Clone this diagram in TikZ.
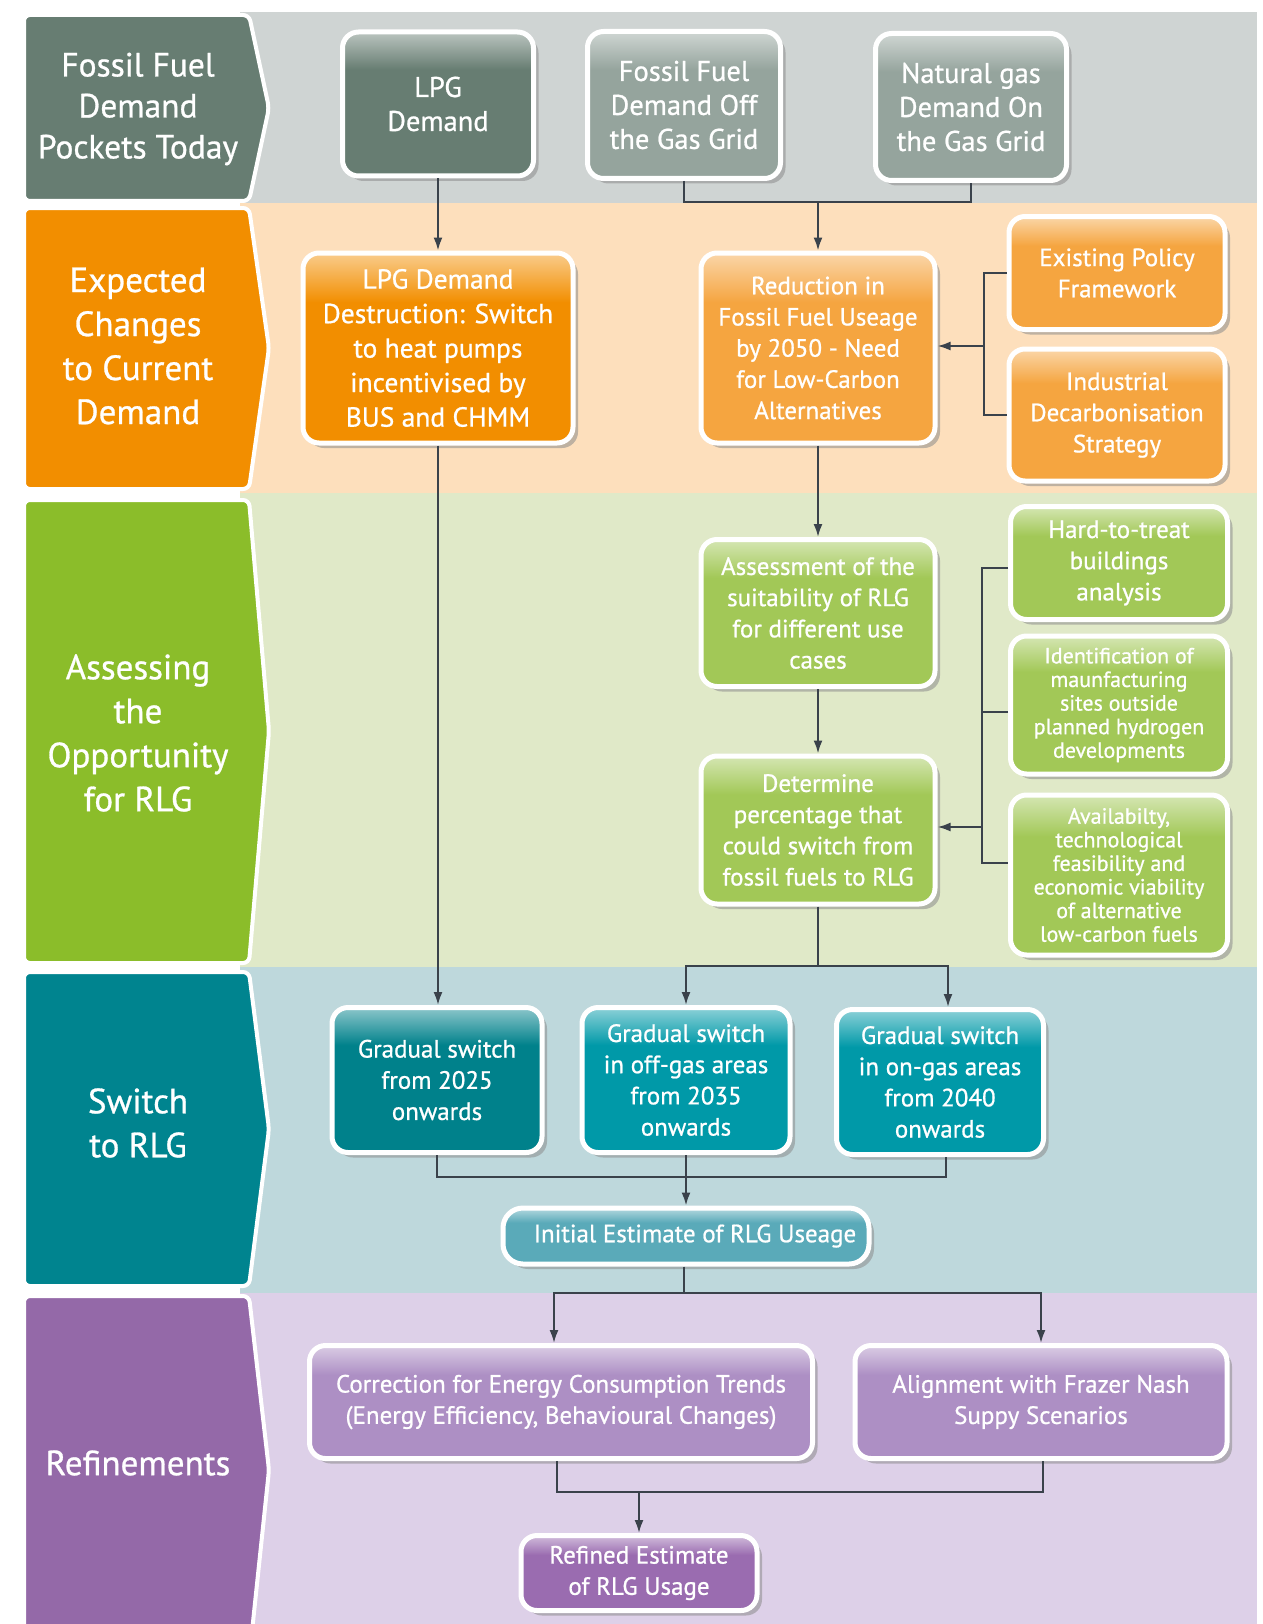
\documentclass[tikz,border=0pt]{standalone}
\usepackage{fontspec}
\setmainfont{PT Sans}[FakeBold=0.8]
\usetikzlibrary{arrows.meta,shadows}

\definecolor{lnc}{HTML}{3A424B}
\definecolor{bgA}{HTML}{CFD4D3}
\definecolor{bgB}{HTML}{FDDFBC}
\definecolor{bgC}{HTML}{E0E9C8}
\definecolor{bgD}{HTML}{BED8DC}
\definecolor{bgE}{HTML}{DDD0E8}
\definecolor{lbA}{HTML}{677D72}
\definecolor{lbB}{HTML}{F28E00}
\definecolor{lbC}{HTML}{8BBD2A}
\definecolor{lbD}{HTML}{00848F}
\definecolor{lbE}{HTML}{9469A8}
\definecolor{bxA}{HTML}{677D72}
\definecolor{bxA2}{HTML}{95A49D}
\definecolor{bxB}{HTML}{F28E00}
\definecolor{bxB2}{HTML}{F5A540}
\definecolor{bxC}{HTML}{A2C857}
\definecolor{bxD}{HTML}{00818B}
\definecolor{bxD2}{HTML}{0099A8}
\definecolor{bxD3}{HTML}{5AAAB9}
\definecolor{bxE}{HTML}{AD8FC4}
\definecolor{bxE2}{HTML}{9A6CB0}
\colorlet{boxc}{bxA}

\pgfdeclareverticalshading[boxc]{gloss}{100bp}{color(0bp)=(boxc); color(62bp)=(boxc); color(75bp)=(boxc!45!white); color(100bp)=(boxc!45!white)}

\newcommand\fra{\fontsize{28.5}{34}\selectfont}
\newcommand\frb{\fontsize{27.5}{34.5}\selectfont}
\newcommand\frc{\fontsize{25}{31.2}\selectfont}
\newcommand\frs{\fontsize{22}{23.6}\selectfont}
\newcommand\lfa{\fontsize{33.5}{41}\selectfont}
\newcommand\lfb{\fontsize{35}{44}\selectfont}

\tikzset{
  box/.style={draw=white, line width=5pt, rounded corners=16pt, text=white, align=center,
    inner sep=2pt,
    drop shadow={shadow xshift=5pt, shadow yshift=-5pt, fill=black!45, opacity=0.55},
    /utils/exec={\colorlet{boxc}{#1}}, shading=gloss},
  lbl/.style={text=white, align=center},
  ln/.style={draw=lnc, line width=2pt},
  arr/.style={-{Latex[length=13pt,width=9pt]}},
  chevA/.style={draw=white, line width=4pt, rounded corners=6pt}
}

\begin{document}
\begin{tikzpicture}[x=1pt,y=-1pt]
\useasboundingbox (0,0) rectangle (1262,1624);
\fill[white] (0,0) rectangle (1262,1624);

% band backgrounds
\fill[bgA] (240,12) rectangle (1257,203);
\fill[bgB] (240,203) rectangle (1257,493);
\fill[bgC] (240,493) rectangle (1257,967);
\fill[bgD] (240,967) rectangle (1257,1293);
\fill[bgE] (240,1293) rectangle (1257,1624);

% band labels
\fill[lbA,chevA] (24,15) -- (249,15) -- (269,108) -- (249,201) -- (24,201) -- cycle;
\fill[lbB,chevA] (24,208) -- (249,208) -- (269,348) -- (249,489) -- (24,489) -- cycle;
\fill[lbC,chevA] (24,500) -- (249,500) -- (269,731) -- (249,963) -- (24,963) -- cycle;
\fill[lbD,chevA] (24,972) -- (249,972) -- (269,1129) -- (249,1286) -- (24,1286) -- cycle;
\fill[lbE,chevA] (24,1296) -- (249,1296) -- (269,1470) -- (249,1660) -- (24,1660) -- cycle;

\node[lbl,font=\lfa] (la) at (138,109) {Fossil Fuel\\Demand\\Pockets Today};
\node[lbl,font=\lfb] (lb) at (138,346) {Expected\\Changes\\to Current\\Demand};
\node[lbl,font=\lfb] (lc) at (138,733) {Assessing\\the\\Opportunity\\for RLG};
\node[lbl,font=\lfb] (ld) at (138,1123) {Switch\\to RLG};
\node[lbl,font=\lfb] (le) at (138,1463) {Refinements};

% row 1
\node[box=bxA, minimum width=191pt, minimum height=144pt, font=\fra] (lpg) at (438,104) {LPG\\Demand};
\node[box=bxA2, minimum width=193pt, minimum height=147pt, font=\fra] (ffoff) at (684,105) {Fossil Fuel\\Demand Off\\the Gas Grid};
\node[box=bxA2, minimum width=191pt, minimum height=147pt, font=\fra] (ngon) at (971,107) {Natural gas\\Demand On\\the Gas Grid};

% row 2
\node[box=bxB, minimum width=270pt, minimum height=190pt, font=\frb] (lpgd) at (438,348) {LPG Demand\\Destruction: Switch\\to heat pumps\\incentivised by\\BUS and CHMM};
\node[box=bxB2, minimum width=234pt, minimum height=190pt, font=\frc] (red) at (818,348) {Reduction in\\Fossil Fuel Useage\\by 2050 - Need\\for Low-Carbon\\Alternatives};
\node[box=bxB2, minimum width=216pt, minimum height=113pt, font=\frc] (pol) at (1117,273) {Existing Policy\\Framework};
\node[box=bxB2, minimum width=216pt, minimum height=132pt, font=\frc] (ind) at (1117,415) {Industrial\\Decarbonisation\\Strategy};

% row 3
\node[box=bxC, minimum width=234pt, minimum height=147pt, font=\frc] (ass) at (818,613) {Assessment of the\\suitability of RLG\\for different use\\cases};
\node[box=bxC, minimum width=234pt, minimum height=148pt, font=\frc] (det) at (818,830) {Determine\\percentage that\\could switch from\\fossil fuels to RLG};
\node[box=bxC, minimum width=217pt, minimum height=113pt, font=\frc] (hard) at (1119,563) {Hard-to-treat\\buildings\\analysis};
\node[box=bxC, minimum width=217pt, minimum height=138pt, font=\frs] (ident) at (1119,705) {Identification of\\maunfacturing\\sites outside\\planned hydrogen\\developments};
\node[box=bxC, minimum width=217pt, minimum height=160pt, font=\frs] (avail) at (1119,875) {Availabilty,\\technological\\feasibility and\\economic viability\\of alternative\\low-carbon fuels};

% row 4
\node[box=bxD, minimum width=210pt, minimum height=145pt, font=\frc] (g1) at (437,1080) {Gradual switch\\from 2025\\onwards};
\node[box=bxD2, minimum width=208pt, minimum height=145pt, font=\frc] (g2) at (686,1080) {Gradual switch\\in off-gas areas\\from 2035\\onwards};
\node[box=bxD2, minimum width=207pt, minimum height=145pt, font=\frc] (g3) at (940,1082) {Gradual switch\\in on-gas areas\\from 2040\\onwards};
\node[box=bxD3, minimum width=366pt, minimum height=56pt, font=\frc, rounded corners=20pt] (init) at (686,1236) {\hspace*{18pt}Initial Estimate of RLG Useage};

% row 5
\node[box=bxE, minimum width=503pt, minimum height=113pt, font=\frc] (corr) at (561,1402) {Correction for Energy Consumption Trends\\(Energy Efficiency, Behavioural Changes)};
\node[box=bxE, minimum width=372pt, minimum height=113pt, font=\frc] (align) at (1041,1402) {Alignment with Frazer Nash\\Suppy Scenarios};
\node[box=bxE2, minimum width=236pt, minimum height=75pt, font=\frc] (ref) at (639,1573) {Refined Estimate\\of RLG Usage};

% connectors
\draw[ln,arr] (lpg.south) -- (lpgd.north);
\coordinate (j1) at (818,202);
\draw[ln] (ffoff.south) |- (j1) -| (ngon.south);
\draw[ln,arr] (j1) -- (red.north);

\coordinate (b1) at (984,346);
\draw[ln] (pol.west) -| (b1) |- (ind.west);
\draw[ln,arr] (b1) -- (b1 -| red.east);

\draw[ln,arr] (red.south) -- (ass.north);
\draw[ln,arr] (ass.south) -- (det.north);

\coordinate (b2) at (982,827);
\draw[ln] ([yshift=-5pt]hard.west) -| (b2) |- ([yshift=12pt]avail.west);
\draw[ln] ([yshift=-7pt]ident.west) -- ++(-26,0);
\draw[ln,arr] (b2) -- (b2 -| det.east);

\draw[ln,arr] (lpgd.south) -- (lpgd.south |- g1.north);
\coordinate (j2) at (818,966);
\draw[ln] (det.south) -- (j2);
\draw[ln,arr] (j2) -| (g2.north);
\draw[ln,arr] (j2) -| ([xshift=8pt]g3.north);

\coordinate (j3) at (686,1177);
\draw[ln] (g1.south) |- ([xshift=6pt]g3.south |- j3) -- ([xshift=6pt]g3.south);
\draw[ln] (g2.south) -- (j3);
\draw[ln,arr] (j3) -- (init.north);

\coordinate (j4) at (684,1293);
\draw[ln] (j4 |- init.south) -- (j4);
\draw[ln,arr] (j4) -| ([xshift=-7pt]corr.north);
\draw[ln,arr] (j4) -| (align.north);

\coordinate (j5) at (639,1492);
\draw[ln] ([xshift=-4pt]corr.south) |- ([xshift=2pt]align.south |- j5) -- ([xshift=2pt]align.south);
\draw[ln,arr] (j5) -- (ref.north);
\end{tikzpicture}
\end{document}
